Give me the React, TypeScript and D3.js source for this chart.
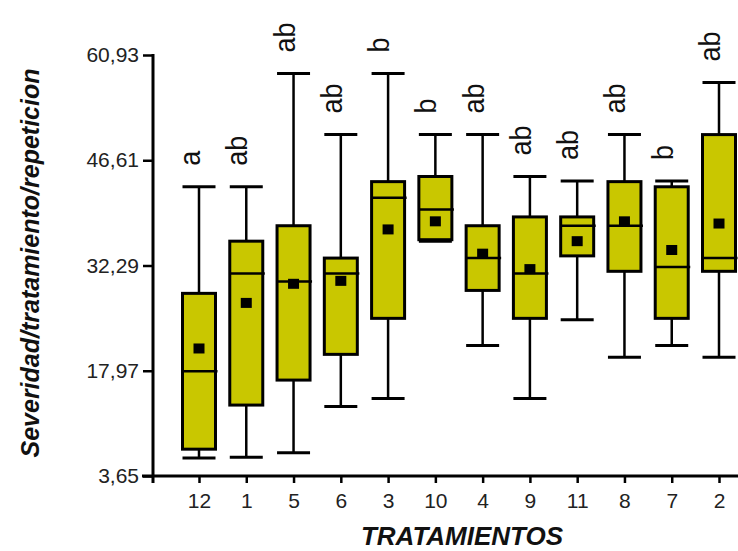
import * as d3 from "d3";
import React, { useEffect, useRef } from "react";

// treatments in plotted order
const tratamientos = ["12", "1", "5", "6", "3", "10", "4", "9", "11", "8", "7", "2"];

// box statistics
const minimos = [6.1, 6.2, 6.8, 13.1, 14.2, 35.6, 21.4, 14.2, 24.9, 19.8, 21.4, 19.8];
const q1 = [7.3, 13.3, 16.7, 20.2, 25.1, 35.8, 28.9, 25.1, 33.6, 31.5, 25.1, 31.5];
const medianas = [17.9, 31.2, 30.1, 31.2, 41.5, 39.9, 33.3, 31.2, 37.7, 37.7, 32.1, 33.3];
const q3 = [28.5, 35.6, 37.7, 33.3, 43.7, 44.4, 37.7, 38.9, 38.9, 43.7, 43.0, 50.1];
const maximos = [43.0, 43.0, 58.4, 50.1, 58.4, 50.1, 50.1, 44.4, 43.8, 50.1, 43.8, 57.2];
const medias = [21.0, 27.2, 29.8, 30.2, 37.2, 38.3, 33.9, 31.8, 35.6, 38.3, 34.4, 38.0];
const letras = ["a", "ab", "ab", "ab", "b", "b", "ab", "ab", "ab", "ab", "b", "ab"];

const yTicks = [3.65, 17.97, 32.29, 46.61, 60.93];

const W = 738;
const H = 551;
const FONT = "'Liberation Sans', Arial, sans-serif";

export default function App() {
  const ref = useRef<SVGSVGElement>(null);

  useEffect(() => {
    const svg = d3.select(ref.current);
    svg.selectAll("*").remove();

    const x = d3.scalePoint<string>().domain(tratamientos).range([199, 719]);
    const y = d3.scaleLinear().domain([3.65, 60.93]).range([476, 55]);
    const boxW = 33;
    const axisX = 153;

    const data = tratamientos.map((t, i) => ({
      t,
      min: minimos[i],
      q1: q1[i],
      med: medianas[i],
      q3: q3[i],
      max: maximos[i],
      mean: medias[i],
      letra: letras[i]
    }));

    const g = svg.append("g");

    // whiskers
    g.selectAll(".whisker")
      .data(data)
      .enter()
      .append("line")
      .attr("x1", d => x(d.t)!)
      .attr("x2", d => x(d.t)!)
      .attr("y1", d => y(d.min))
      .attr("y2", d => y(d.max))
      .attr("stroke", "#000")
      .attr("stroke-width", 2.5);

    // caps
    ["min", "max"].forEach(k => {
      g.selectAll(".cap-" + k)
        .data(data)
        .enter()
        .append("line")
        .attr("x1", d => x(d.t)! - boxW / 2)
        .attr("x2", d => x(d.t)! + boxW / 2)
        .attr("y1", d => y((d as any)[k]))
        .attr("y2", d => y((d as any)[k]))
        .attr("stroke", "#000")
        .attr("stroke-width", 3);
    });

    // boxes
    g.selectAll(".box")
      .data(data)
      .enter()
      .append("rect")
      .attr("x", d => x(d.t)! - boxW / 2)
      .attr("y", d => y(d.q3))
      .attr("width", boxW)
      .attr("height", d => y(d.q1) - y(d.q3))
      .attr("fill", "#c9c700")
      .attr("stroke", "#000")
      .attr("stroke-width", 3);

    // medians
    g.selectAll(".median")
      .data(data)
      .enter()
      .append("line")
      .attr("x1", d => x(d.t)! - boxW / 2)
      .attr("x2", d => x(d.t)! + boxW / 2 + 2)
      .attr("y1", d => y(d.med))
      .attr("y2", d => y(d.med))
      .attr("stroke", "#000")
      .attr("stroke-width", 2.5);

    // means
    g.selectAll(".mean")
      .data(data)
      .enter()
      .append("rect")
      .attr("x", d => x(d.t)! - 5.5)
      .attr("y", d => y(d.mean) - 5)
      .attr("width", 11)
      .attr("height", 10)
      .attr("fill", "#000");

    // significance letters
    g.selectAll(".letra")
      .data(data)
      .enter()
      .append("text")
      .attr("transform", d => `translate(${x(d.t)! + 1},${y(d.max) - 21}) rotate(-90) scale(1,1.12)`)
      .attr("font-family", FONT)
      .attr("font-size", 27)
      .attr("fill", "#111")
      .text(d => d.letra);

    // y axis
    const yAxis = svg
      .append("g")
      .attr("transform", `translate(${axisX},0)`)
      .call(
        d3
          .axisLeft(y)
          .tickValues(yTicks)
          .tickSize(10)
          .tickPadding(4)
          .tickFormat(d => d3.format(".2f")(d as number).replace(".", ","))
      );
    yAxis.select(".domain").remove();
    yAxis
      .append("line")
      .attr("x1", 0)
      .attr("x2", 0)
      .attr("y1", 54)
      .attr("y2", 483)
      .attr("stroke", "#000")
      .attr("stroke-width", 3);
    yAxis.selectAll(".tick line").attr("stroke", "#000").attr("stroke-width", 2.5);
    yAxis
      .selectAll(".tick text")
      .attr("font-family", FONT)
      .attr("font-size", 21)
      .attr("fill", "#222");

    // x axis
    const xAxis = svg
      .append("g")
      .attr("transform", "translate(0,476)")
      .call(d3.axisBottom(x).tickSize(7).tickPadding(10));
    xAxis.select(".domain").remove();
    xAxis
      .append("line")
      .attr("x1", axisX - 11)
      .attr("x2", W)
      .attr("y1", 0)
      .attr("y2", 0)
      .attr("stroke", "#000")
      .attr("stroke-width", 3);
    xAxis.selectAll(".tick line").attr("stroke", "#000").attr("stroke-width", 2.5);
    xAxis
      .selectAll(".tick text")
      .attr("font-family", FONT)
      .attr("font-size", 21)
      .attr("fill", "#222");

    // axis titles
    svg
      .append("text")
      .attr("x", 462)
      .attr("y", 545)
      .attr("text-anchor", "middle")
      .attr("font-family", FONT)
      .attr("font-size", 26)
      .attr("font-weight", "bold")
      .attr("font-style", "italic")
      .attr("fill", "#111")
      .text("TRATAMIENTOS");

    svg
      .append("text")
      .attr("transform", "translate(39,263) rotate(-90)")
      .attr("text-anchor", "middle")
      .attr("font-family", FONT)
      .attr("font-size", 25)
      .attr("font-weight", "bold")
      .attr("font-style", "italic")
      .attr("fill", "#111")
      .text("Severidad/tratamiento/repeticion");
  }, []);

  return (
    <svg
      ref={ref}
      width={W}
      height={H}
      style={{ position: "absolute", left: 0, top: 0, background: "#fff" }}
    />
  );
}
